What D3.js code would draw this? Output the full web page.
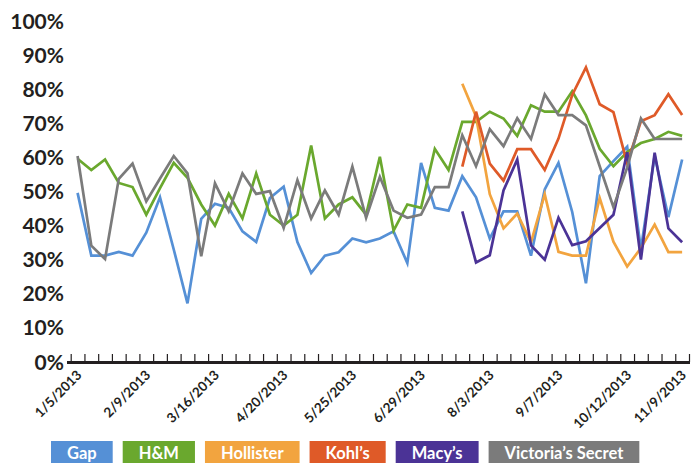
<!DOCTYPE html>
<html>
<head>
<meta charset="utf-8">
<script src="https://cdn.jsdelivr.net/npm/d3@7"></script>
<style>
  body { margin: 0; background: #fff; }
  svg { display: block; font-family: Lato, 'Open Sans', sans-serif; }
</style>
</head>
<body>
<svg width="691" height="463"></svg>
<script>
// weeks shown on the x axis (1/5/2013 .. 11/9/2013)
let weeks = d3.range(45).map(i => d3.timeWeek.offset(new Date(2013, 0, 5), i));
let labelWeeks = [0, 5, 10, 15, 20, 25, 30, 35, 40, 44];
let yTicks = [0, 10, 20, 30, 40, 50, 60, 70, 80, 90, 100];

let brands = ['Gap', 'H&M', 'Hollister', 'Kohl\u2019s', 'Macy\u2019s', 'Victoria\u2019s Secret'];
let colors = ['#5590d6', '#6aa82e', '#f2a43f', '#df5a28', '#4b3396', '#7b7b7b'];

let gap = [49.6, 31.2, 31.2, 32.3, 31.2, 37.9, 48.3, 33, 17.2, 42, 46.4, 45.2, 38.3, 35.2, 48.1,
  51.4, 35.2, 26.1, 31.2, 32.2, 36.2, 35.1, 36.2, 38.3, 29, 58.4, 45.2, 44.4, 54.5, 48.3,
  36.2, 44.2, 44.2, 31.2, 50.6, 58.4, 44, 23.1, 54.5, 58.9, 63.1, 33, 60.5, 42.5, 59.4];
let hm = [59.6, 56.3, 59.4, 52.5, 51.3, 43.2, 51, 58.4, 54, 46.2, 40, 49.3, 42.1, 55.3, 43.2,
  40, 43.2, 63.5, 42.1, 46.2, 48.3, 43.2, 60.2, 38.5, 46.2, 45.2, 62.5, 56.3, 70.4, 70.4,
  73.4, 71.4, 66.3, 75.3, 73.4, 73.4, 79.4, 72.3, 62.5, 57.4, 61.6, 64.2, 65.4, 67.5, 66.3];
let hollister = [null, null, null, null, null, null, null, null, null, null, null, null, null, null, null,
  null, null, null, null, null, null, null, null, null, null, null, null, null, 81.6, 72,
  49.2, 39.2, 43.5, 35.1, 49.2, 32.3, 31.2, 31.2, 48.1, 35.3, 28, 33.4, 40.3, 32.2, 32.2];
let kohls = [null, null, null, null, null, null, null, null, null, null, null, null, null, null, null,
  null, null, null, null, null, null, null, null, null, null, null, null, null, 57.3, 73.4,
  58.2, 53.2, 62.4, 62.4, 56.3, 65.5, 78.3, 86.4, 75.6, 73.3, 58.3, 70.6, 72.4, 78.5, 72.4];
let macys = [null, null, null, null, null, null, null, null, null, null, null, null, null, null, null,
  null, null, null, null, null, null, null, null, null, null, null, null, null, 44.2, 29.2,
  31.3, 50.3, 59.4, 34.2, 30, 42.3, 34.3, 35.4, 39.3, 43.2, 61.5, 30, 61.4, 39.2, 35.1];
let victorias = [60.4, 34.1, 30.2, 53.7, 58.2, 47.1, 53.8, 60.4, 55.3, 31, 52.4, 44.2, 55.3, 49.3, 50.1,
  39.3, 53.3, 42.1, 50.3, 43.2, 57.3, 42.3, 54.3, 44.4, 42.3, 43.2, 51.3, 51.3, 66.5, 57.4,
  68.3, 63.3, 71.5, 65.4, 78.5, 72.4, 72.4, 69.4, 57.4, 45.4, 57, 71.4, 65.4, 65.4, 65.4];

let series = [gap, hm, hollister, kohls, macys, victorias];

let svg = d3.select('svg');
let ink = '#231f20';

// category axis: ticks sit between weeks, points in the middle
let x = d3.scaleLinear().domain([0, weeks.length]).range([70.7, 689]);
let y = d3.scaleLinear().domain([0, 100]).range([362, 21]);
let fmt = d3.timeFormat('%-m/%-d/%Y');

// y labels (no axis line, no grid)
svg.append('g')
  .selectAll('text')
  .data(yTicks)
  .enter()
  .append('text')
    .attr('x', 64)
    .attr('y', d => y(d))
    .attr('dy', '0.36em')
    .attr('text-anchor', 'end')
    .attr('fill', ink)
    .style('font-size', '21px')
    .style('font-weight', 700)
    .text(d => d + '%');

// lines
let line = d3.line()
  .defined(d => d != null)
  .x((d, i) => x(i + 0.5))
  .y(d => y(d));

svg.append('g')
  .selectAll('path')
  .data(series)
  .enter()
  .append('path')
    .attr('d', line)
    .attr('fill', 'none')
    .attr('stroke', (d, i) => colors[i])
    .attr('stroke-width', 2.7)
    .attr('stroke-linejoin', 'miter');

// x axis with tick marks pointing up
let xAxis = svg.append('g')
  .attr('transform', 'translate(0,362)')
  .call(d3.axisTop(x).tickValues(d3.range(weeks.length + 1)).tickSize(8).tickFormat(''));
xAxis.select('.domain').remove();
xAxis.selectAll('line').attr('stroke', ink).attr('stroke-width', 1.2);
svg.append('line')
  .attr('x1', 67).attr('x2', 690)
  .attr('y1', 362.5).attr('y2', 362.5)
  .attr('stroke', ink)
  .attr('stroke-width', 3);

svg.append('g')
  .selectAll('text')
  .data(labelWeeks)
  .enter()
  .append('text')
    .attr('transform', d => 'translate(' + (x(d + 0.5) + 5) + ',376) rotate(-45)')
    .attr('text-anchor', 'end')
    .attr('fill', ink)
    .style('font-size', '13.5px')
    .style('font-weight', 700)
    .text(d => fmt(weeks[d]));

// legend boxes, widths follow the text (bottom of the boxes runs off the page)
let legend = svg.append('g');
let lx = 51;
brands.forEach(function(name, i) {
  let g = legend.append('g');
  let rect = g.append('rect');
  let t = g.append('text')
    .attr('y', 459)
    .attr('text-anchor', 'middle')
    .attr('fill', '#fff')
    .style('font-size', '16.5px')
    .style('font-weight', 700)
    .text(name);
  let w = t.node().getComputedTextLength() + 32;
  rect.attr('x', lx).attr('y', 441).attr('width', w).attr('height', 30).attr('fill', colors[i]);
  t.attr('x', lx + w / 2);
  lx += w + 10;
});
</script>
</body>
</html>
